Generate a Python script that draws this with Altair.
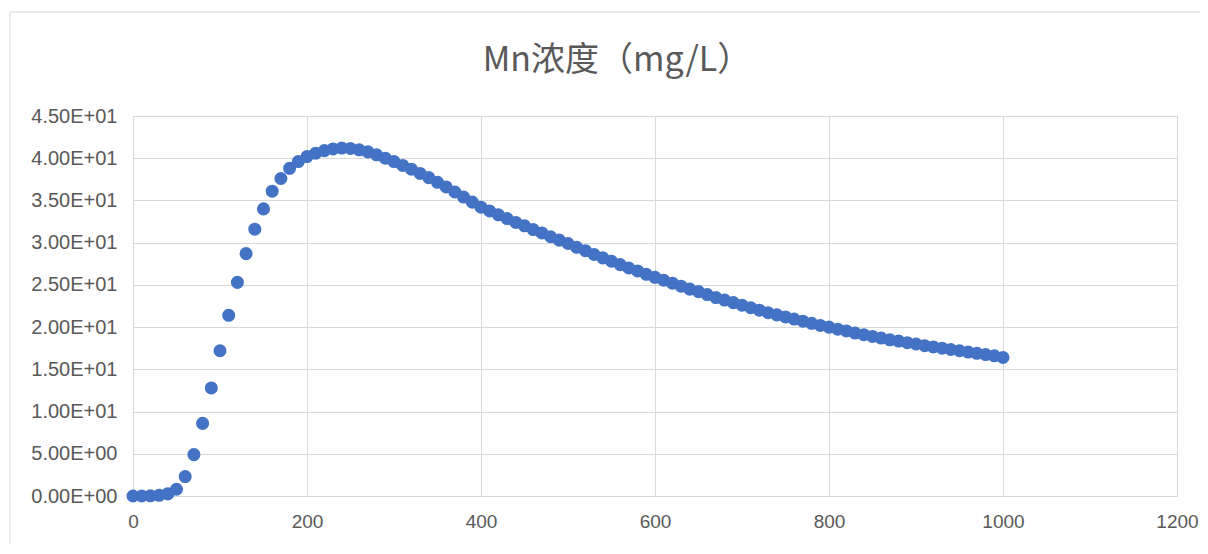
import altair as alt
import pandas as pd

x_vals = list(range(0, 1001, 10))
mn_conc = [
    0.0, 0.0, 0.02, 0.08, 0.25, 0.8, 2.3, 4.9, 8.6, 12.8,
    17.2, 21.4, 25.3, 28.7, 31.6, 34.0, 36.1, 37.6, 38.8, 39.6,
    40.2, 40.6, 40.9, 41.1, 41.2, 41.15, 41.0, 40.75, 40.4, 40.0,
    39.6, 39.15, 38.7, 38.2, 37.7, 37.15, 36.6, 36.0, 35.4, 34.8,
    34.2, 33.75, 33.3, 32.85, 32.4, 32.0, 31.55, 31.15, 30.7, 30.3,
    29.9, 29.45, 29.05, 28.6, 28.2, 27.8, 27.4, 27.0, 26.65, 26.25,
    25.9, 25.55, 25.2, 24.85, 24.5, 24.2, 23.85, 23.5, 23.2, 22.9,
    22.6, 22.3, 22.0, 21.7, 21.45, 21.2, 20.95, 20.7, 20.45, 20.2,
    20.0, 19.75, 19.55, 19.3, 19.1, 18.9, 18.7, 18.5, 18.35, 18.15,
    18.0, 17.8, 17.65, 17.5, 17.35, 17.2, 17.05, 16.9, 16.75, 16.6,
    16.4,
]
x_ticks = [0, 200, 400, 600, 800, 1000, 1200]
y_ticks = [0, 5, 10, 15, 20, 25, 30, 35, 40, 45]
title_text = "Mn浓度（mg/L）"

df = pd.DataFrame({"x": x_vals, "y": mn_conc})

label_font = "Liberation Sans, sans-serif"

border = alt.Chart(pd.DataFrame({"a": [0]})).mark_rect(
    fill=None, stroke="#d9d9d9", strokeWidth=1
).encode(
    x=alt.value(-123), x2=alt.value(1090), y=alt.value(-104), y2=alt.value(460)
)

title = alt.Chart(pd.DataFrame({"t": [title_text]})).mark_text(
    fontSize=34, font="Noto Sans CJK SC", color="#595959",
    align="center", baseline="middle",
).encode(
    text="t:N", x=alt.value(484), y=alt.value(-55)
)

points = alt.Chart(df).mark_circle(size=170, opacity=1, color="#4472C4").encode(
    x=alt.X(
        "x:Q",
        scale=alt.Scale(domain=[0, 1200], nice=False),
        axis=alt.Axis(
            values=x_ticks, title=None, grid=True, gridColor="#d9d9d9",
            domain=False, ticks=False, labelPadding=16, labelFontSize=19,
            labelColor="#595959", labelFont=label_font, format="d",
            labelFlush=False,
        ),
    ),
    y=alt.Y(
        "y:Q",
        scale=alt.Scale(domain=[0, 45], nice=False),
        axis=alt.Axis(
            values=y_ticks, title=None, grid=True, gridColor="#d9d9d9",
            domain=False, ticks=False, labelPadding=16, labelFontSize=20,
            labelColor="#595959", labelFont=label_font,
            labelExpr="datum.value >= 10 ? format(datum.value/10, '.2f') + 'E+01' : format(datum.value, '.2f') + 'E+00'",
        ),
    ),
)

chart = alt.layer(border, points, title).properties(
    width=1044,
    height=380,
    padding={"left": 125, "top": 108, "right": 23, "bottom": 48},
    autosize=alt.AutoSizeParams(type="none"),
).configure_view(stroke=None).configure(background="white")

chart.save("out.html", embed_options={"renderer": "svg", "actions": False})
